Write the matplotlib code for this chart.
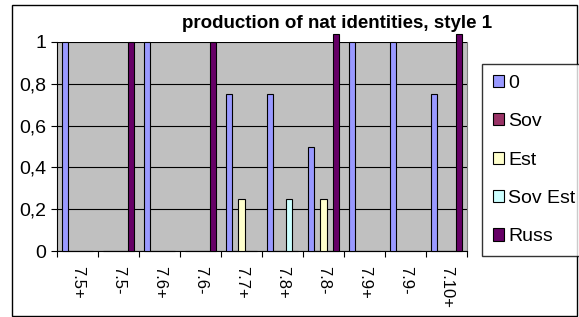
import numpy as np
import matplotlib.pyplot as plt
from matplotlib.patches import Rectangle

categories = ["7.5+", "7.5-", "7.6+", "7.6-", "7.7+", "7.8+", "7.8-", "7.9+", "7.9-", "7.10+"]
series_names = ["0", "Sov", "Est", "Sov Est", "Russ"]
s_zero = [1, 0, 1, 0, 0.75, 0.75, 0.5, 1, 1, 0.75]
s_sov = [0, 0, 0, 0, 0, 0, 0, 0, 0, 0]
s_est = [0, 0, 0, 0, 0.25, 0, 0.25, 0, 0, 0]
s_sovest = [0, 0, 0, 0, 0, 0.25, 0, 0, 0, 0]
s_russ = [0, 1, 0, 1, 0, 0, 1.04, 0, 0, 1.04]
colors = ["#9999FF", "#993366", "#FFFFCC", "#CCFFFF", "#660066"]

plt.rcParams['font.family'] = ['Liberation Sans', 'DejaVu Sans']

fig = plt.figure(figsize=(5.79, 3.17), dpi=100)
fig.patches.append(Rectangle((12 / 579, 1 - 316 / 317), 565 / 579, 311 / 317,
                             transform=fig.transFigure, fill=False,
                             edgecolor="black", linewidth=1))

ax = fig.add_axes([57 / 579, 1 - 251 / 317, 410 / 579, 209 / 317])
ax.set_facecolor("#C0C0C0")

all_series = [s_zero, s_sov, s_est, s_sovest, s_russ]
n = len(categories)
x = np.arange(n)
w = 1 / 6.5
for j, vals in enumerate(all_series):
    ax.bar(x + (0.75 + j + 0.5) * w, vals, width=w, color=colors[j],
           edgecolor="black", linewidth=0.8, label=series_names[j],
           zorder=3, clip_on=False)

ax.set_xlim(0, n)
ax.set_ylim(0, 1)
ax.set_yticks(np.arange(0, 1.01, 0.2))
ax.set_yticklabels(["0", "0,2", "0,4", "0,6", "0,8", "1"], fontsize=14)
ax.yaxis.grid(True, color="black", linewidth=0.8, zorder=1)
ax.set_xticks(np.arange(n + 1))
ax.set_xticklabels([])
ax.set_xticks(x + 0.5, minor=True)
ax.set_xticklabels(categories, minor=True, rotation=270, fontsize=12)
ax.tick_params(axis="x", which="minor", length=0, pad=11)
ax.tick_params(axis="x", which="major", length=4, direction="out")
ax.tick_params(axis="y", length=4, direction="out", pad=4)
ax.spines["right"].set_color("#808080")
ax.spines["top"].set_visible(False)

fig.text(337 / 579, 1 - 23 / 317, "production of nat identities, style 1",
         ha="center", va="center", fontsize=13.5, fontweight="bold")

fig.legend(loc="upper left", bbox_to_anchor=(482 / 579, 1 - 64 / 317),
           frameon=True, fancybox=False, edgecolor="black", fontsize=14,
           handlelength=0.6, handleheight=0.6, handletextpad=0.2,
           labelspacing=1.1, borderpad=0.55, borderaxespad=0)

fig.savefig("out.png", dpi=100)
